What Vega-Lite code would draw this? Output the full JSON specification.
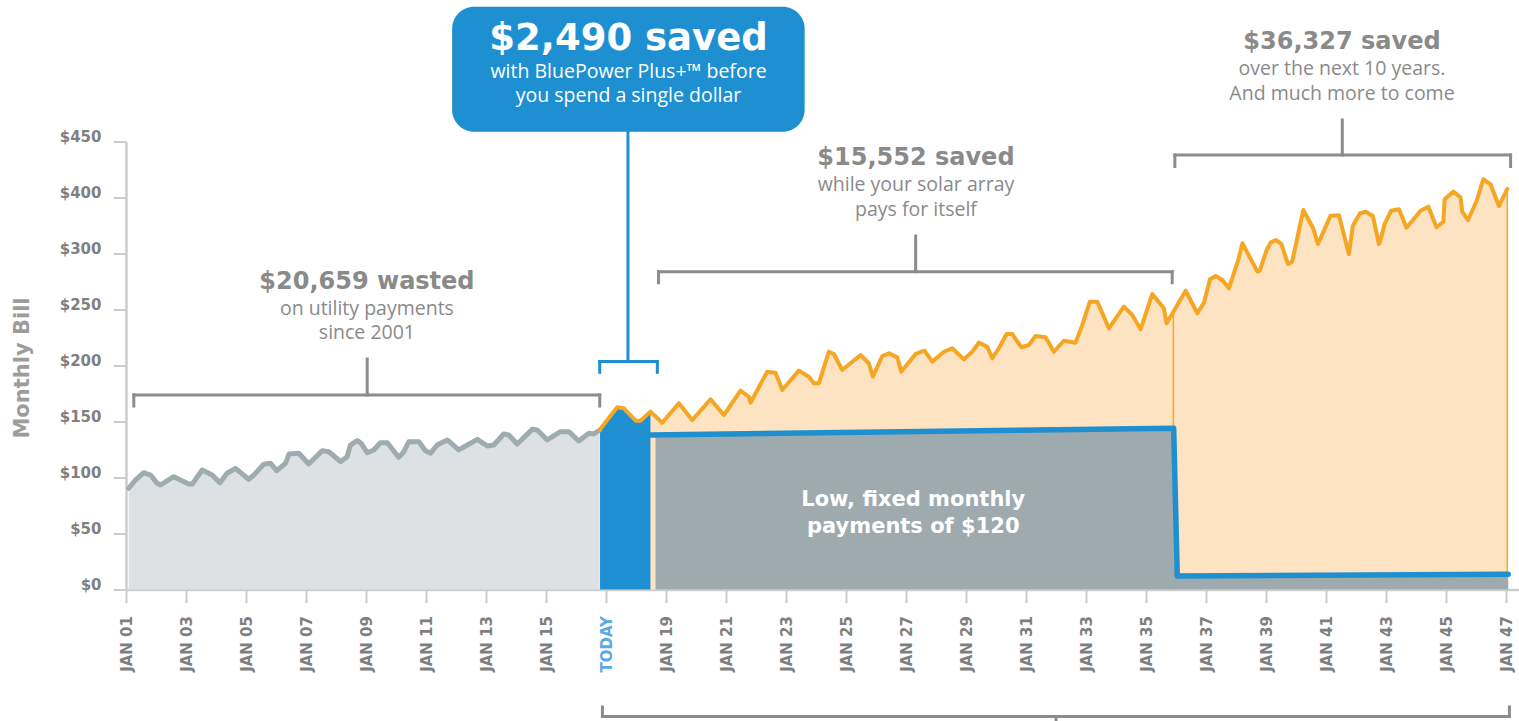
{
  "$schema": "https://vega.github.io/schema/vega-lite/v6.json",
  "width": 1393,
  "height": 448,
  "autosize": {"type": "none"},
  "padding": {"left": 126, "top": 141.5, "right": 0, "bottom": 131.5},
  "background": "#ffffff",
  "config": {"view": {"stroke": null}},
  "datasets": {
    "gray": [
      {"year": 2001.09, "value": 90.4}, {"year": 2001.32, "value": 97.8}, {"year": 2001.59, "value": 104.3}, {"year": 2001.82, "value": 102.2},
      {"year": 2002.04, "value": 94.8}, {"year": 2002.15, "value": 93.3}, {"year": 2002.59, "value": 100.7}, {"year": 2003.09, "value": 94.2},
      {"year": 2003.21, "value": 94.2}, {"year": 2003.54, "value": 106.7}, {"year": 2003.87, "value": 102.2}, {"year": 2004.13, "value": 95.4},
      {"year": 2004.37, "value": 103.8}, {"year": 2004.65, "value": 108.2}, {"year": 2005.09, "value": 98.4}, {"year": 2005.26, "value": 102.2},
      {"year": 2005.59, "value": 111.8}, {"year": 2005.82, "value": 112.7}, {"year": 2006.02, "value": 106.1}, {"year": 2006.32, "value": 112.7},
      {"year": 2006.43, "value": 121.0}, {"year": 2006.76, "value": 121.6}, {"year": 2007.09, "value": 112.1}, {"year": 2007.54, "value": 123.9},
      {"year": 2007.76, "value": 123.0}, {"year": 2008.15, "value": 114.1}, {"year": 2008.37, "value": 118.6}, {"year": 2008.48, "value": 129.0},
      {"year": 2008.71, "value": 132.9}, {"year": 2008.84, "value": 130.5}, {"year": 2009.04, "value": 122.1}, {"year": 2009.26, "value": 124.6},
      {"year": 2009.48, "value": 131.1}, {"year": 2009.71, "value": 131.1}, {"year": 2010.09, "value": 118.0}, {"year": 2010.26, "value": 123.0},
      {"year": 2010.43, "value": 132.0}, {"year": 2010.76, "value": 132.0}, {"year": 2010.98, "value": 123.9}, {"year": 2011.15, "value": 121.6},
      {"year": 2011.37, "value": 129.0}, {"year": 2011.71, "value": 133.5}, {"year": 2012.09, "value": 124.6}, {"year": 2012.32, "value": 128.1},
      {"year": 2012.71, "value": 134.1}, {"year": 2013.04, "value": 128.1}, {"year": 2013.26, "value": 129.0}, {"year": 2013.59, "value": 138.8},
      {"year": 2013.76, "value": 137.9}, {"year": 2014.04, "value": 129.9}, {"year": 2014.54, "value": 143.0}, {"year": 2014.71, "value": 142.4},
      {"year": 2015.04, "value": 133.5}, {"year": 2015.48, "value": 140.9}, {"year": 2015.76, "value": 140.9}, {"year": 2016.09, "value": 132.6},
      {"year": 2016.43, "value": 139.5}, {"year": 2016.59, "value": 138.8}, {"year": 2016.79, "value": 142.4}
    ],
    "orange": [
      {"year": 2016.8, "value": 143.0}, {"year": 2017.373, "value": 162.7}, {"year": 2017.593, "value": 161.8}, {"year": 2017.983, "value": 150.7},
      {"year": 2018.15, "value": 150.7}, {"year": 2018.48, "value": 158.8}, {"year": 2018.873, "value": 148.9}, {"year": 2019.427, "value": 166.3},
      {"year": 2019.873, "value": 151.3}, {"year": 2020.483, "value": 169.8}, {"year": 2020.927, "value": 155.8}, {"year": 2021.483, "value": 177.5},
      {"year": 2021.76, "value": 172.1}, {"year": 2021.817, "value": 166.8}, {"year": 2022.373, "value": 194.5}, {"year": 2022.65, "value": 193.6},
      {"year": 2022.873, "value": 178.1}, {"year": 2023.427, "value": 195.4}, {"year": 2023.76, "value": 190.0}, {"year": 2023.927, "value": 184.1},
      {"year": 2024.093, "value": 184.1}, {"year": 2024.427, "value": 212.3}, {"year": 2024.593, "value": 210.3}, {"year": 2024.873, "value": 196.0},
      {"year": 2025.483, "value": 209.4}, {"year": 2025.76, "value": 202.0}, {"year": 2025.893, "value": 190.0}, {"year": 2026.207, "value": 208.5},
      {"year": 2026.427, "value": 210.9}, {"year": 2026.707, "value": 207.3}, {"year": 2026.84, "value": 194.5}, {"year": 2027.317, "value": 210.3},
      {"year": 2027.617, "value": 213.2}, {"year": 2027.873, "value": 203.4}, {"year": 2028.26, "value": 212.3}, {"year": 2028.54, "value": 215.4},
      {"year": 2028.927, "value": 205.5}, {"year": 2029.207, "value": 212.3}, {"year": 2029.427, "value": 220.4}, {"year": 2029.707, "value": 216.8},
      {"year": 2029.873, "value": 206.4}, {"year": 2030.093, "value": 215.4}, {"year": 2030.35, "value": 228.1}, {"year": 2030.54, "value": 228.1},
      {"year": 2030.84, "value": 216.3}, {"year": 2031.093, "value": 218.3}, {"year": 2031.317, "value": 226.3}, {"year": 2031.65, "value": 225.2},
      {"year": 2031.927, "value": 212.3}, {"year": 2032.26, "value": 222.1}, {"year": 2032.65, "value": 220.4}, {"year": 2032.873, "value": 236.2},
      {"year": 2033.127, "value": 257.0}, {"year": 2033.373, "value": 257.0}, {"year": 2033.76, "value": 233.2}, {"year": 2034.26, "value": 252.5},
      {"year": 2034.54, "value": 245.1}, {"year": 2034.817, "value": 232.3}, {"year": 2035.207, "value": 263.8}, {"year": 2035.593, "value": 251.1},
      {"year": 2035.683, "value": 237.7}, {"year": 2036.32, "value": 266.8}, {"year": 2036.71, "value": 246.6}, {"year": 2036.93, "value": 256.1},
      {"year": 2037.13, "value": 277.0}, {"year": 2037.32, "value": 279.9}, {"year": 2037.54, "value": 276.3}, {"year": 2037.76, "value": 268.9},
      {"year": 2038.09, "value": 295.7}, {"year": 2038.21, "value": 309.1}, {"year": 2038.71, "value": 283.8}, {"year": 2038.79, "value": 284.7},
      {"year": 2039.02, "value": 303.1}, {"year": 2039.15, "value": 309.7}, {"year": 2039.32, "value": 312.1}, {"year": 2039.51, "value": 308.5},
      {"year": 2039.73, "value": 290.6}, {"year": 2039.87, "value": 292.7}, {"year": 2040.24, "value": 338.8}, {"year": 2040.57, "value": 322.5},
      {"year": 2040.73, "value": 308.5}, {"year": 2041.15, "value": 333.8}, {"year": 2041.43, "value": 334.1}, {"year": 2041.76, "value": 299.6},
      {"year": 2041.89, "value": 324.6}, {"year": 2042.13, "value": 335.9}, {"year": 2042.32, "value": 337.3}, {"year": 2042.56, "value": 333.5},
      {"year": 2042.76, "value": 308.5}, {"year": 2042.82, "value": 312.7}, {"year": 2042.95, "value": 326.3}, {"year": 2043.17, "value": 338.2},
      {"year": 2043.43, "value": 339.5}, {"year": 2043.68, "value": 323.0}, {"year": 2044.15, "value": 338.2}, {"year": 2044.41, "value": 341.8},
      {"year": 2044.68, "value": 323.4}, {"year": 2044.91, "value": 328.4}, {"year": 2044.95, "value": 348.4}, {"year": 2045.24, "value": 355.2},
      {"year": 2045.48, "value": 350.2}, {"year": 2045.54, "value": 337.3}, {"year": 2045.73, "value": 329.9}, {"year": 2046.02, "value": 347.1},
      {"year": 2046.24, "value": 366.3}, {"year": 2046.48, "value": 361.8}, {"year": 2046.76, "value": 342.4}, {"year": 2047.04, "value": 357.6}
    ],
    "edges": [
      {"year": 2035.91, "value": 248},
      {"year": 2047.04, "value": 357.6}
    ],
    "pay": [
      {"year": 2018.49, "value": 138.0, "part": "line"},
      {"year": 2018.65, "value": 138.0, "part": "area"},
      {"year": 2035.92, "value": 144.0, "part": "both"},
      {"year": 2036.04, "value": 12.1, "part": "both"},
      {"year": 2047.07, "value": 13.6, "part": "both"}
    ],
    "brackets": [
      {"year": 2001.26, "year2": 2016.79, "value": 173.7, "value2": 173.7, "g": "gray"},
      {"year": 2001.26, "year2": 2001.26, "value": 173.7, "value2": 163.8, "g": "gray"},
      {"year": 2016.79, "year2": 2016.79, "value": 173.7, "value2": 163.8, "g": "gray"},
      {"year": 2009.04, "year2": 2009.04, "value": 173.7, "value2": 205.8, "g": "gray"},
      {"year": 2018.75, "year2": 2035.87, "value": 283.8, "value2": 283.8, "g": "gray"},
      {"year": 2018.75, "year2": 2018.75, "value": 283.8, "value2": 273.9, "g": "gray"},
      {"year": 2035.87, "year2": 2035.87, "value": 283.8, "value2": 273.9, "g": "gray"},
      {"year": 2027.32, "year2": 2027.32, "value": 283.8, "value2": 315.6, "g": "gray"},
      {"year": 2035.96, "year2": 2047.15, "value": 388.0, "value2": 388.0, "g": "gray"},
      {"year": 2035.96, "year2": 2035.96, "value": 388.0, "value2": 377.7, "g": "gray"},
      {"year": 2047.15, "year2": 2047.15, "value": 388.0, "value2": 377.7, "g": "gray"},
      {"year": 2041.54, "year2": 2041.54, "value": 388.0, "value2": 419.2, "g": "gray"},
      {"year": 2016.88, "year2": 2047.11, "value": -113.4, "value2": -113.4, "g": "gray"},
      {"year": 2016.88, "year2": 2016.88, "value": -113.4, "value2": -104.9, "g": "gray"},
      {"year": 2047.11, "year2": 2047.11, "value": -113.4, "value2": -104.9, "g": "gray"},
      {"year": 2032.0, "year2": 2032.0, "value": -113.4, "value2": -125.0, "g": "gray"},
      {"year": 2016.79, "year2": 2018.71, "value": 203.6, "value2": 203.6, "g": "blue"},
      {"year": 2016.79, "year2": 2016.79, "value": 203.6, "value2": 193.9, "g": "blue"},
      {"year": 2018.71, "year2": 2018.71, "value": 203.6, "value2": 193.9, "g": "blue"},
      {"year": 2017.73, "year2": 2017.73, "value": 203.6, "value2": 409.0, "g": "blue"}
    ],
    "callout": [
      {"year": 2011.87, "year2": 2023.62, "value": 408.8, "value2": 520.4}
    ],
    "texts": [
      {"t": "$2,490 saved", "year": 2017.75, "value": 481.5, "s": "callhead"},
      {"t": "with BluePower Plus+™ before", "year": 2017.75, "value": 456.8, "s": "callsub"},
      {"t": "you spend a single dollar", "year": 2017.75, "value": 435.0, "s": "callsub"},
      {"t": "$36,327 saved", "year": 2041.53, "value": 482.5, "s": "head"},
      {"t": "over the next 10 years.", "year": 2041.53, "value": 459.5, "s": "sub"},
      {"t": "And much more to come", "year": 2041.53, "value": 437.0, "s": "sub"},
      {"t": "$15,552 saved", "year": 2027.33, "value": 378.8, "s": "head"},
      {"t": "while your solar array", "year": 2027.33, "value": 355.5, "s": "sub"},
      {"t": "pays for itself", "year": 2027.33, "value": 333.6, "s": "sub"},
      {"t": "$20,659 wasted", "year": 2009.03, "value": 268.3, "s": "head"},
      {"t": "on utility payments", "year": 2009.03, "value": 245.2, "s": "sub"},
      {"t": "since 2001", "year": 2009.03, "value": 223.6, "s": "sub"},
      {"t": "Low, fixed monthly", "year": 2027.24, "value": 74.6, "s": "pay"},
      {"t": "payments of $120", "year": 2027.24, "value": 50.4, "s": "pay"}
    ]
  },
  "encoding": {
    "x": {"field": "year", "type": "quantitative", "scale": {"domain": [2001, 2047.43], "nice": false, "zero": false},
      "axis": {
        "values": [2001, 2003, 2005, 2007, 2009, 2011, 2013, 2015, 2017, 2019, 2021, 2023, 2025, 2027, 2029, 2031, 2033, 2035, 2037, 2039, 2041, 2043, 2045, 2047],
        "labelExpr": "datum.value == 2017 ? 'TODAY' : 'JAN ' + format(datum.value % 100, '02d')",
        "labelAngle": -90, "labelAlign": "right", "labelBaseline": "middle",
        "labelFont": "DejaVu Sans", "labelFontWeight": "bold", "labelFontSize": 15,
        "labelColor": {"expr": "datum.value == 2017 ? '#5aa9e2' : '#7f7f7f'"},
        "labelPadding": 13, "labelFlush": false, "labelOverlap": false, "labelBound": false,
        "tickSize": 13, "tickWidth": 2, "tickColor": "#cdcdcd",
        "domainColor": "#cdcdcd", "domainWidth": 2.5, "grid": false, "title": null
      }},
    "y": {"field": "value", "type": "quantitative", "scale": {"domain": [0, 400], "nice": false, "zero": false},
      "axis": {
        "values": [0, 50, 100, 150, 200, 250, 300, 350, 400],
        "labelExpr": "datum.value == 350 ? '$400' : datum.value == 400 ? '$450' : '$' + datum.value",
        "labelFont": "DejaVu Sans", "labelFontWeight": "bold", "labelFontSize": 15, "labelColor": "#7f7f7f",
        "labelBaseline": "alphabetic", "labelPadding": 12,
        "tickSize": 13, "tickWidth": 2, "tickColor": "#cdcdcd",
        "domainColor": "#cdcdcd", "domainWidth": 2.5, "grid": false,
        "title": "Monthly Bill", "titleFont": "DejaVu Sans", "titleFontWeight": "bold", "titleFontSize": 21,
        "titleColor": "#9c9c9c", "titleX": -104, "titleY": 226, "titleAngle": -90, "titleAlign": "center", "titleBaseline": "middle"
      }}
  },
  "layer": [
    {
      "data": {"name": "gray"},
      "mark": {"type": "area", "color": "#dde1e4"}
    },
    {
      "data": {"name": "orange"},
      "mark": {"type": "area", "color": "#fde3c1"}
    },
    {
      "data": {"name": "edges"},
      "mark": {"type": "rule", "color": "#f5a623", "strokeWidth": 1.5},
      "encoding": {
        "y2": {"datum": 0}
      }
    },
    {
      "data": {"name": "pay"},
      "transform": [{"filter": "datum.part != 'line'"}],
      "mark": {"type": "area", "color": "#9eaaae"}
    },
    {
      "data": {"name": "orange"},
      "transform": [{"filter": "datum.year <= 2018.49"}],
      "mark": {"type": "area", "color": "#1e8fd0"}
    },
    {
      "data": {"name": "gray"},
      "mark": {"type": "line", "color": "#9eacb0", "strokeWidth": 5, "strokeJoin": "round", "strokeCap": "round"}
    },
    {
      "data": {"name": "orange"},
      "mark": {"type": "line", "color": "#f5a623", "strokeWidth": 4, "strokeJoin": "round", "strokeCap": "round"}
    },
    {
      "data": {"name": "pay"},
      "transform": [{"filter": "datum.part != 'area'"}],
      "mark": {"type": "line", "color": "#1f8fcf", "strokeWidth": 5.5, "strokeJoin": "round", "strokeCap": "round"}
    },
    {
      "data": {"name": "brackets"},
      "mark": {"type": "rule", "strokeWidth": 3, "strokeCap": "square"},
      "encoding": {
        "x2": {"field": "year2"},
        "y2": {"field": "value2"},
        "color": {"field": "g", "type": "nominal", "scale": {"domain": ["gray", "blue"], "range": ["#8c8c8c", "#1f8fcf"]}, "legend": null}
      }
    },
    {
      "data": {"name": "callout"},
      "mark": {"type": "rect", "color": "#1e8fd0", "cornerRadius": 22},
      "encoding": {
        "x2": {"field": "year2"},
        "y2": {"field": "value2"}
      }
    },
    {
      "data": {"name": "texts"},
      "transform": [{"filter": "datum.s == 'head'"}],
      "mark": {"type": "text", "font": "DejaVu Sans", "fontWeight": "bold", "fontSize": 24, "color": "#8a8a8a", "align": "center", "baseline": "alphabetic"},
      "encoding": {"text": {"field": "t"}}
    },
    {
      "data": {"name": "texts"},
      "transform": [{"filter": "datum.s == 'sub'"}],
      "mark": {"type": "text", "font": "Open Sans", "fontSize": 19.5, "color": "#8a8a8a", "align": "center", "baseline": "alphabetic"},
      "encoding": {"text": {"field": "t"}}
    },
    {
      "data": {"name": "texts"},
      "transform": [{"filter": "datum.s == 'callhead'"}],
      "mark": {"type": "text", "font": "DejaVu Sans", "fontWeight": "bold", "fontSize": 37, "color": "#ffffff", "align": "center", "baseline": "alphabetic"},
      "encoding": {"text": {"field": "t"}}
    },
    {
      "data": {"name": "texts"},
      "transform": [{"filter": "datum.s == 'callsub'"}],
      "mark": {"type": "text", "font": "Open Sans", "fontSize": 19.5, "color": "#ffffff", "align": "center", "baseline": "alphabetic"},
      "encoding": {"text": {"field": "t"}}
    },
    {
      "data": {"name": "texts"},
      "transform": [{"filter": "datum.s == 'pay'"}],
      "mark": {"type": "text", "font": "DejaVu Sans", "fontWeight": "bold", "fontSize": 21, "color": "#ffffff", "align": "center", "baseline": "alphabetic"},
      "encoding": {"text": {"field": "t"}}
    }
  ]
}
